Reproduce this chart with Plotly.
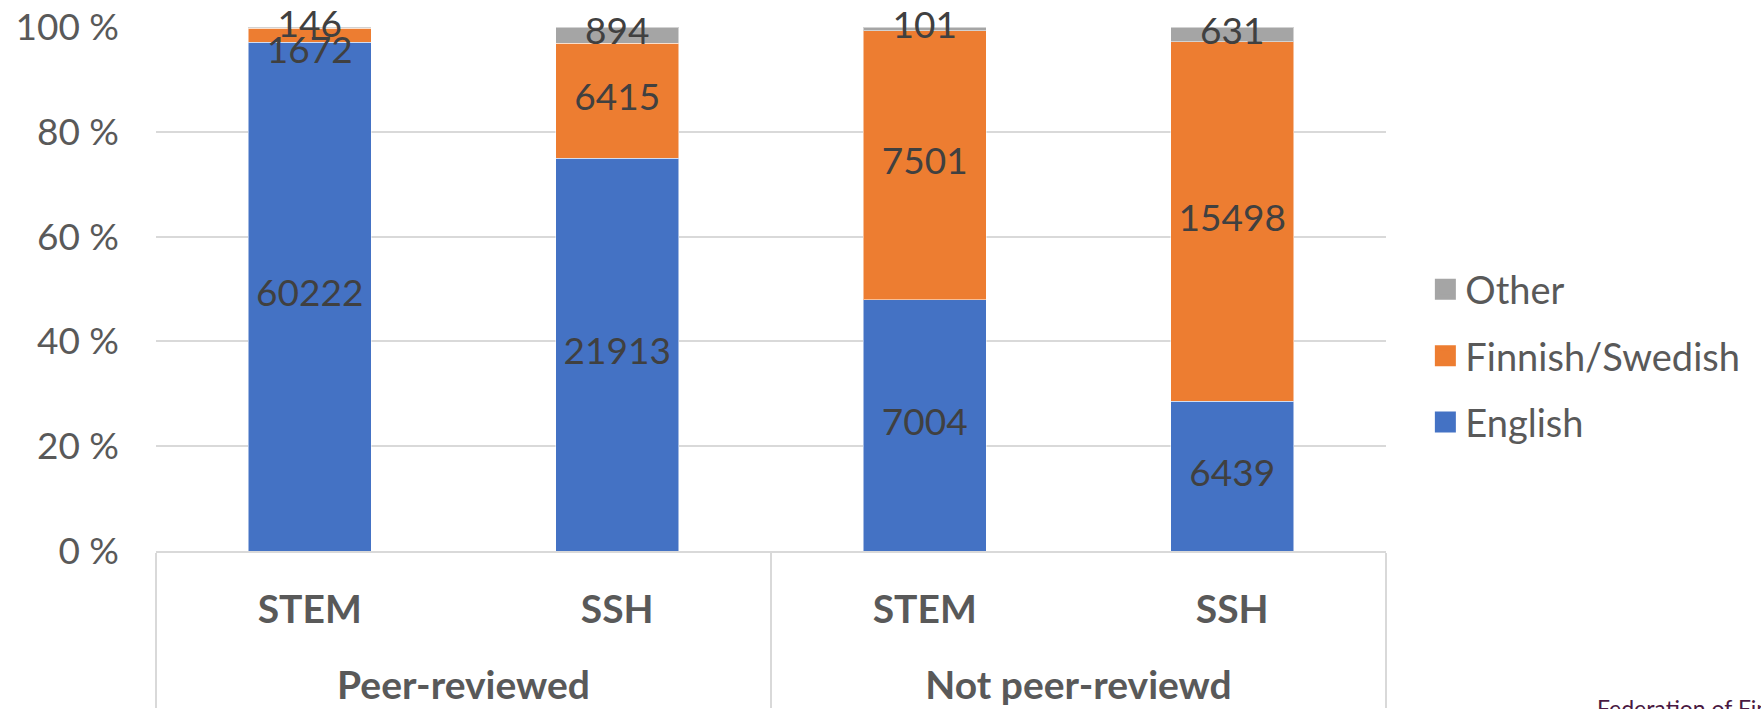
import plotly.graph_objects as go

groups = ["Peer-reviewed", "Peer-reviewed", "Not peer-reviewd", "Not peer-reviewd"]
fields = ["STEM", "SSH", "STEM", "SSH"]
english = [60222, 21913, 7004, 6439]
finnish_swedish = [1672, 6415, 7501, 15498]
other = [146, 894, 101, 631]
series_names = ["English", "Finnish/Swedish", "Other"]
series_colors = ["#4472C4", "#ED7D31", "#A5A5A5"]
y_ticks = [0, 20, 40, 60, 80, 100]

FONT = "Lato"
series = [english, finnish_swedish, other]
totals = [sum(v) for v in zip(*series)]
# group labels sit one (empty) line lower, as in the reference
x_cats = [["<br>" + g for g in groups], fields]

fig = go.Figure()
for name, vals, col in zip(series_names, series, series_colors):
    fig.add_trace(go.Bar(
        x=x_cats, y=vals, name=name,
        marker=dict(color=col, line=dict(color="rgba(255,255,255,0.5)", width=1)),
        textposition="none", showlegend=False, hoverinfo="skip",
    ))

# data labels at the middle of each (normalised) segment
base = [0.0] * len(totals)
for k, vals in enumerate(series):
    shares = [100.0 * v / t for v, t in zip(vals, totals)]
    mids = [b + s / 2 for b, s in zip(base, shares)]
    pos = []
    for i, s in enumerate(shares):
        above = 100.0 * series[k + 1][i] / totals[i] if k + 1 < len(series) else 100
        pos.append("bottom center" if (s < 5 and above < 1) else "middle center")
    fig.add_trace(go.Scatter(
        x=x_cats, y=mids, mode="text", text=[str(v) for v in vals],
        textposition=pos, cliponaxis=False,
        textfont=dict(family=FONT, size=37, color="#404040"),
        showlegend=False, hoverinfo="skip",
    ))
    base = [b + s for b, s in zip(base, shares)]

# legend entries (top to bottom: Other, Finnish/Swedish, English)
for i, (name, col) in enumerate(reversed(list(zip(series_names, series_colors)))):
    fig.add_trace(go.Scatter(
        x=[None], y=[None], xaxis="x2", yaxis="y2", mode="markers", name=name,
        legendgroup=name, legendrank=i,
        marker=dict(symbol="square", size=16, color=col, line=dict(color=col, width=5)),
    ))

fig.update_layout(
    width=1761, height=709,
    margin=dict(l=156, r=375, t=27, b=158, autoexpand=False),
    paper_bgcolor="white", plot_bgcolor="white",
    barmode="stack", barnorm="percent", bargap=0.6,
    font=dict(family=FONT, color="#595959"),
    xaxis=dict(
        type="multicategory", showgrid=False, showline=True, linecolor="#d9d9d9", linewidth=2,
        showdividers=True, dividercolor="#d9d9d9", dividerwidth=2,
        tickfont=dict(family=FONT, size=39, color="#595959", weight="bold"),
        ticks="", ticklabelstandoff=23,
        automargin=False,
    ),
    yaxis=dict(
        range=[0, 100], tickvals=y_ticks, ticktext=[f"{v} %" for v in y_ticks],
        showgrid=True, gridcolor="#d9d9d9", gridwidth=2, zeroline=False, showline=False,
        tickfont=dict(family=FONT, size=37, color="#595959"), ticklabelstandoff=36,
        ticklabeloverflow="allow", automargin=False,
    ),
    xaxis2=dict(visible=False, overlaying="x"),
    yaxis2=dict(visible=False, overlaying="y"),
    legend=dict(
        x=1.032, xanchor="left", y=0.372, yanchor="middle",
        font=dict(family=FONT, size=38, color="#595959"),
        traceorder="grouped", tracegroupgap=14, itemsizing="trace", itemwidth=30,
    ),
    annotations=[dict(
        text="Federation of Finnish Learned Societies", xref="paper", yref="paper",
        x=1.17, y=-0.27, xanchor="left", yanchor="top", showarrow=False,
        font=dict(family=FONT, size=23, color="#4a1942"),
    )],
)
fig.write_html("out.html", config={"displayModeBar": False},
               post_script="document.body.style.margin='0';")
